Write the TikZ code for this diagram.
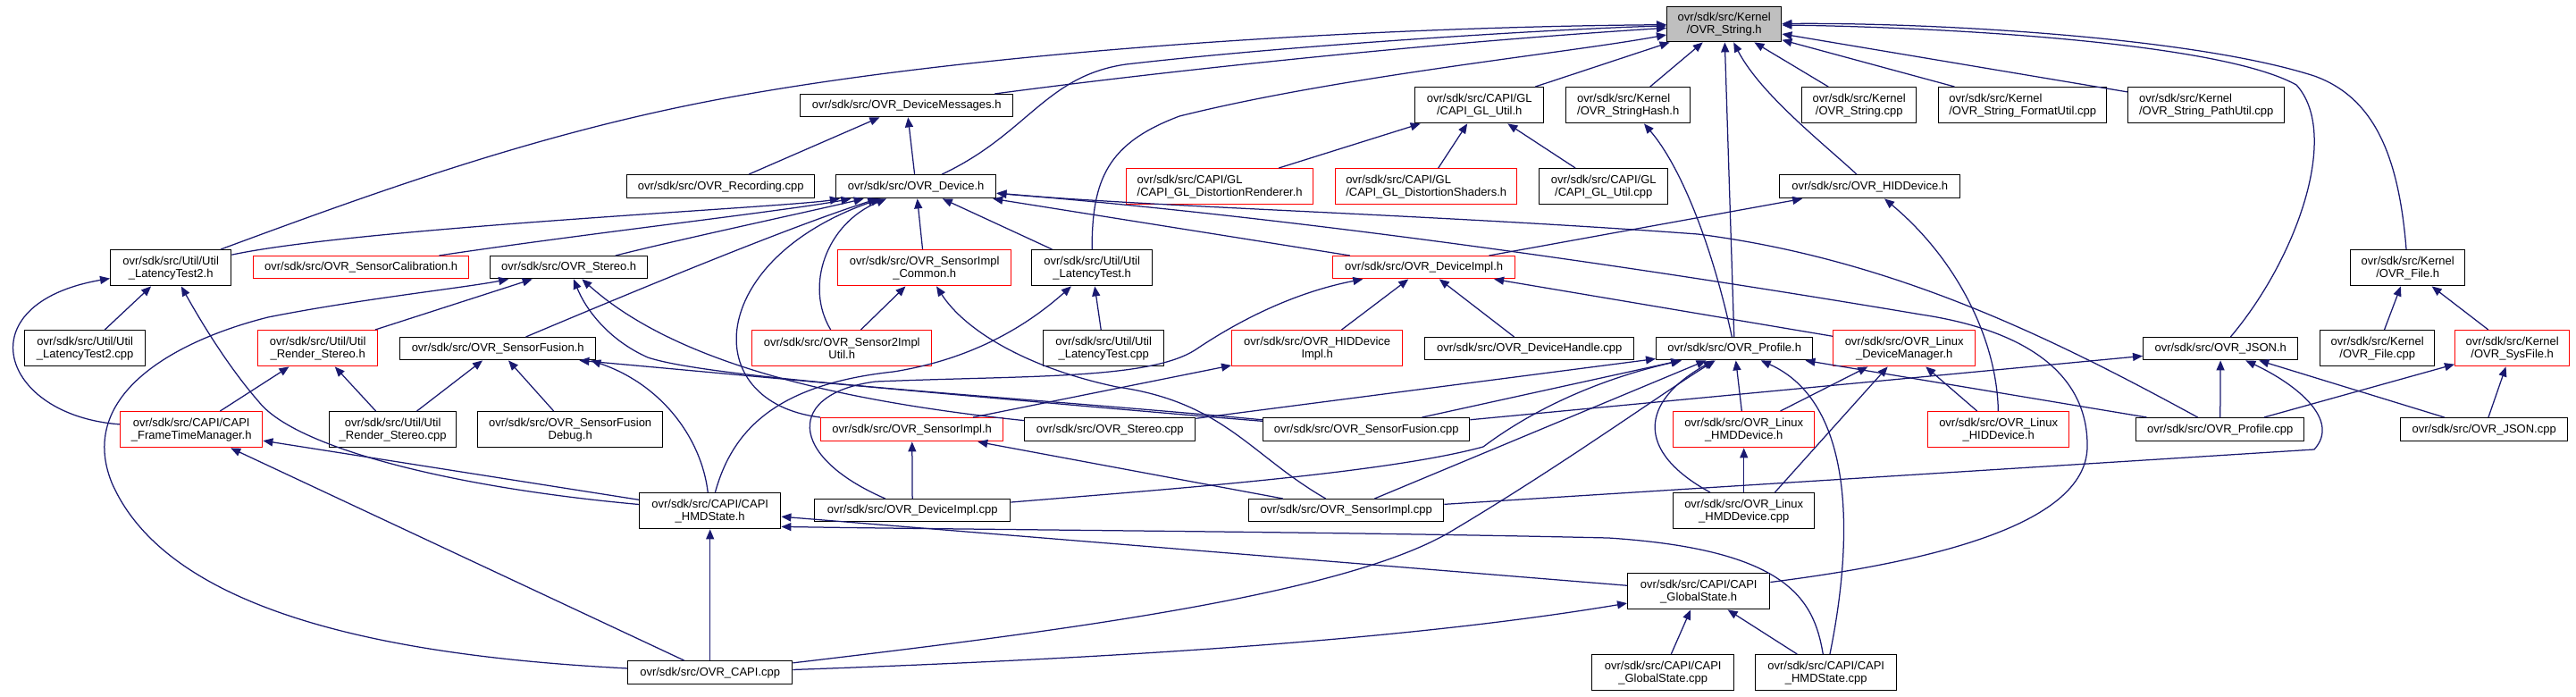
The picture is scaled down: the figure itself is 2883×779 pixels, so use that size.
\documentclass[tikz,border=0pt]{standalone}
\usepackage{fontspec}
\newfontfamily\gfont{Liberation Sans}
\usetikzlibrary{arrows.meta}
\definecolor{edgeblue}{HTML}{191970}
\definecolor{nodered}{HTML}{FF0000}
\definecolor{nodegray}{HTML}{BFBFBF}
\begin{document}
\begin{tikzpicture}[x=1pt,y=-1pt,
  bx/.style={draw=black, line width=1.4pt, inner sep=0pt, anchor=north west, align=center, fill=white, font={\gfont\fontsize{13}{14}\selectfont}},
  rbx/.style={bx, draw=nodered},
  lal/.style={align=left},
  wh/.style 2 args={minimum width=#1pt, minimum height=#2pt},
  lnk/.style={draw=edgeblue, line width=1.25pt, -{Triangle[length=11pt,width=9pt]}}]
\fill[white] (0,0) rectangle (2883,779);
\useasboundingbox (0,0) rectangle (2883,779);
% row A
\node[bx,wh={128}{39},fill=nodegray] (S) at (1865,7) {ovr/sdk/src/Kernel\\/OVR\_String.h};
% row B
\node[bx,wh={238}{25}] (DM) at (895,105) {ovr/sdk/src/OVR\_DeviceMessages.h};
\node[bx,wh={144}{40}] (GLU) at (1583,97) {ovr/sdk/src/CAPI/GL\\/CAPI\_GL\_Util.h};
\node[bx,lal,wh={139}{40}] (SH) at (1752,97) {ovr/sdk/src/Kernel\\/OVR\_StringHash.h};
\node[bx,wh={128}{40}] (SC) at (2016,97) {ovr/sdk/src/Kernel\\/OVR\_String.cpp};
\node[bx,lal,wh={188}{40}] (SF) at (2169,97) {ovr/sdk/src/Kernel\\/OVR\_String\_FormatUtil.cpp};
\node[bx,lal,wh={175}{40}] (SP) at (2381,97) {ovr/sdk/src/Kernel\\/OVR\_String\_PathUtil.cpp};
% row C
\node[bx,wh={210}{26}] (REC) at (701,195) {ovr/sdk/src/OVR\_Recording.cpp};
\node[bx,wh={179}{26}] (DEV) at (935,195) {ovr/sdk/src/OVR\_Device.h};
\node[rbx,lal,wh={209}{40}] (DR) at (1260,188) {ovr/sdk/src/CAPI/GL\\/CAPI\_GL\_DistortionRenderer.h};
\node[rbx,lal,wh={203}{40}] (DSH) at (1494,188) {ovr/sdk/src/CAPI/GL\\/CAPI\_GL\_DistortionShaders.h};
\node[bx,wh={144}{40}] (GLC) at (1722,188) {ovr/sdk/src/CAPI/GL\\/CAPI\_GL\_Util.cpp};
\node[bx,wh={202}{26}] (HID) at (1991,195) {ovr/sdk/src/OVR\_HIDDevice.h};
% row D
\node[bx,wh={135}{40}] (LT2) at (123,279) {ovr/sdk/src/Util/Util\\\_LatencyTest2.h};
\node[rbx,wh={241}{25}] (SCAL) at (283,286) {ovr/sdk/src/OVR\_SensorCalibration.h};
\node[bx,wh={176}{25}] (ST) at (548,286) {ovr/sdk/src/OVR\_Stereo.h};
\node[rbx,wh={194}{40}] (SIC) at (937,279) {ovr/sdk/src/OVR\_SensorImpl\\\_Common.h};
\node[bx,wh={135}{40}] (LT) at (1154,279) {ovr/sdk/src/Util/Util\\\_LatencyTest.h};
\node[rbx,wh={204}{25}] (DI) at (1491,286) {ovr/sdk/src/OVR\_DeviceImpl.h};
\node[bx,wh={128}{40}] (FH) at (2630,279) {ovr/sdk/src/Kernel\\/OVR\_File.h};
% row E
\node[bx,wh={135}{40}] (LT2C) at (27,369) {ovr/sdk/src/Util/Util\\\_LatencyTest2.cpp};
\node[rbx,wh={134}{40}] (RSH) at (288,369) {ovr/sdk/src/Util/Util\\\_Render\_Stereo.h};
\node[bx,wh={219}{25}] (SFH) at (447,377) {ovr/sdk/src/OVR\_SensorFusion.h};
\node[rbx,wh={201}{40}] (S2U) at (841,369) {ovr/sdk/src/OVR\_Sensor2Impl\\Util.h};
\node[bx,wh={135}{40}] (LTC) at (1167,369) {ovr/sdk/src/Util/Util\\\_LatencyTest.cpp};
\node[rbx,wh={191}{40}] (HDI) at (1378,369) {ovr/sdk/src/OVR\_HIDDevice\\Impl.h};
\node[bx,wh={234}{25}] (DH) at (1594,377) {ovr/sdk/src/OVR\_DeviceHandle.cpp};
\node[bx,wh={175}{25}] (PH) at (1853,377) {ovr/sdk/src/OVR\_Profile.h};
\node[rbx,wh={159}{40}] (LDM) at (2051,369) {ovr/sdk/src/OVR\_Linux\\\_DeviceManager.h};
\node[bx,wh={173}{25}] (JH) at (2398,377) {ovr/sdk/src/OVR\_JSON.h};
\node[bx,wh={128}{40}] (FC) at (2596,369) {ovr/sdk/src/Kernel\\/OVR\_File.cpp};
\node[rbx,wh={128}{40}] (SYS) at (2747,369) {ovr/sdk/src/Kernel\\/OVR\_SysFile.h};
% row F
\node[rbx,wh={159}{40}] (FTM) at (134,460) {ovr/sdk/src/CAPI/CAPI\\\_FrameTimeManager.h};
\node[bx,wh={142}{40}] (RSC) at (368,460) {ovr/sdk/src/Util/Util\\\_Render\_Stereo.cpp};
\node[bx,wh={207}{40}] (SFD) at (534,460) {ovr/sdk/src/OVR\_SensorFusion\\Debug.h};
\node[rbx,wh={204}{26}] (SIH) at (918,467) {ovr/sdk/src/OVR\_SensorImpl.h};
\node[bx,wh={191}{26}] (STC) at (1146,467) {ovr/sdk/src/OVR\_Stereo.cpp};
\node[bx,wh={231}{26}] (SFC) at (1413,467) {ovr/sdk/src/OVR\_SensorFusion.cpp};
\node[rbx,wh={158}{40}] (LHH) at (1872,460) {ovr/sdk/src/OVR\_Linux\\\_HMDDevice.h};
\node[rbx,wh={158}{40}] (LHID) at (2157,460) {ovr/sdk/src/OVR\_Linux\\\_HIDDevice.h};
\node[bx,wh={188}{26}] (PC) at (2390,467) {ovr/sdk/src/OVR\_Profile.cpp};
\node[bx,wh={187}{26}] (JC) at (2686,467) {ovr/sdk/src/OVR\_JSON.cpp};
% row G
\node[bx,wh={158}{40}] (HMS) at (715,551) {ovr/sdk/src/CAPI/CAPI\\\_HMDState.h};
\node[bx,wh={219}{25}] (DIC) at (911,558) {ovr/sdk/src/OVR\_DeviceImpl.cpp};
\node[bx,wh={218}{25}] (SIX) at (1397,558) {ovr/sdk/src/OVR\_SensorImpl.cpp};
\node[bx,wh={158}{40}] (LHC) at (1872,551) {ovr/sdk/src/OVR\_Linux\\\_HMDDevice.cpp};
% row H
\node[bx,wh={159}{40}] (GS) at (1821,641) {ovr/sdk/src/CAPI/CAPI\\\_GlobalState.h};
% row I
\node[bx,wh={184}{26}] (CAPI) at (702,739) {ovr/sdk/src/OVR\_CAPI.cpp};
\node[bx,wh={159}{40}] (GSC) at (1781,732) {ovr/sdk/src/CAPI/CAPI\\\_GlobalState.cpp};
\node[bx,wh={158}{40}] (HSC) at (1964,732) {ovr/sdk/src/CAPI/CAPI\\\_HMDState.cpp};

% ---- edges into OVR_String.h
\draw[lnk] (LT2) .. controls (420,215) and (600,150) .. (800,112) .. controls (1100,55) and (1550,30) .. (S);
\draw[lnk] (DM) .. controls (1300,80) and (1600,48) .. (S);
\draw[lnk] (DEV) .. controls (1150,150) and (1170,85) .. (1260,72) .. controls (1450,50) and (1750,32) .. (S);
\draw[lnk] (LT) .. controls (1222,200) and (1240,160) .. (1320,130) .. controls (1500,85) and (1750,60) .. (S);
\draw[lnk] (GLU) -- (S);
\draw[lnk] (SH) -- (S);
\draw[lnk] (PH) -- (S);
\draw[lnk] (HID) .. controls (2040,160) and (1970,105) .. (S);
\draw[lnk] (SC) -- (S);
\draw[lnk] (SF) -- (S);
\draw[lnk] (SP) -- (S);
\draw[lnk] (JH) .. controls (2570,290) and (2620,150) .. (2570,95) .. controls (2480,45) and (2150,30) .. (S);
\draw[lnk] (FH) .. controls (2685,180) and (2660,110) .. (2590,85) .. controls (2450,40) and (2150,25) .. (S);
% ---- DeviceMessages, GL util, StringHash, HIDDevice
\draw[lnk] (REC) -- (DM);
\draw[lnk] (DEV) -- (DM);
\draw[lnk] (DR) -- (GLU);
\draw[lnk] (DSH) -- (GLU);
\draw[lnk] (GLC) -- (GLU);
\draw[lnk] (PH) .. controls (1915,270) and (1880,185) .. (SH);
\draw[lnk] (DI) -- (HID);
\draw[lnk] (LHID) .. controls (2235,380) and (2190,290) .. (HID);
% ---- into OVR_Device.h
\draw[lnk] (LT2) .. controls (400,255) and (880,232) .. (DEV);
\draw[lnk] (SCAL) .. controls (650,262) and (880,236) .. (DEV);
\draw[lnk] (ST) .. controls (760,268) and (900,238) .. (DEV);
\draw[lnk] (SFH) .. controls (700,330) and (880,255) .. (DEV);
\draw[lnk] (SIH.north west) .. controls (780,450) and (790,290) .. (DEV);
\draw[lnk] (S2U) .. controls (900,320) and (925,250) .. (DEV);
\draw[lnk] (SIC) -- (DEV);
\draw[lnk] (LT) -- (DEV);
\draw[lnk] (DI) -- (DEV);
\draw[lnk] (PC) .. controls (2300,380) and (2120,290) .. (1900,262) .. controls (1600,240) and (1300,232) .. (DEV);
\draw[lnk] (GS) .. controls (2150,630) and (2335,590) .. (2336,500) .. controls (2337,420) and (2270,370) .. (2150,352) .. controls (1900,310) and (1500,248) .. (DEV);
% ---- into OVR_DeviceImpl.h
\draw[lnk] (HDI) -- (DI);
\draw[lnk] (DH) -- (DI);
\draw[lnk] (LDM) -- (DI);
\draw[lnk] (DIC) .. controls (880,510) and (880,440) .. (980,427) .. controls (1150,420) and (1290,425) .. (1340,390) .. controls (1400,350) and (1460,325) .. (DI);
% ---- SensorImpl.h, HIDDeviceImpl, SensorImpl_Common
\draw[lnk] (DIC) -- (SIH);
\draw[lnk] (SIX) -- (SIH);
\draw[lnk] (SIH) -- (HDI);
\draw[lnk] (S2U) -- (SIC);
\draw[lnk] (SIX) .. controls (1400,510) and (1370,450) .. (1250,433) .. controls (1150,412) and (1080,370) .. (SIC);
% ---- LatencyTest, LatencyTest2
\draw[lnk] (LTC) -- (LT);
\draw[lnk] (HMS) .. controls (820,480) and (870,430) .. (1000,416) .. controls (1100,400) and (1160,355) .. (LT);
\draw[lnk] (LT2C) -- (LT2);
\draw[lnk] (FTM) .. controls (0,465) and (-40,340) .. (LT2);
\draw[lnk] (HMS) .. controls (500,545) and (330,500) .. (290,450) .. controls (255,410) and (225,360) .. (LT2);
% ---- FrameTimeManager, Render_Stereo
\draw[lnk] (HMS) -- (FTM);
\draw[lnk] (CAPI) -- (FTM);
\draw[lnk] (FTM) -- (RSH);
\draw[lnk] (RSC) -- (RSH);
% ---- Stereo.h
\draw[lnk] (RSH) -- (ST);
\draw[lnk] (CAPI) .. controls (450,735) and (190,690) .. (125,540) .. controls (85,440) and (200,380) .. (300,355) .. controls (400,335) and (520,322) .. (ST);
\draw[lnk] (STC) .. controls (950,450) and (760,410) .. (ST);
\draw[lnk] (SFC) .. controls (1150,445) and (800,425) .. (725,400) .. controls (680,380) and (655,345) .. (ST);
% ---- SensorFusion.h
\draw[lnk] (RSC) -- (SFH);
\draw[lnk] (SFD) -- (SFH);
\draw[lnk] (HMS) .. controls (785,490) and (740,430) .. ([xshift=-6pt]SFH.south east);
\draw[lnk] (SFC) .. controls (1150,450) and (780,415) .. ([xshift=-19pt]SFH.south east);
% ---- Profile.h
\draw[lnk] (STC) -- (PH);
\draw[lnk] (SFC) -- (PH);
\draw[lnk] (DIC) .. controls (1300,548) and (1550,530) .. (1660,500) .. controls (1740,440) and (1830,415) .. (PH);
\draw[lnk] (SIX) -- (PH);
\draw[lnk] (CAPI) .. controls (1200,705) and (1500,665) .. (1620,597) .. controls (1750,520) and (1860,440) .. (PH);
\draw[lnk] (LHH) -- (PH);
\draw[lnk] (LHC) .. controls (1830,505) and (1835,450) .. (PH);
\draw[lnk] (HSC) .. controls (2075,600) and (2075,450) .. (PH);
\draw[lnk] (PC) -- (PH);
% ---- Linux device manager / HMD device
\draw[lnk] (LHH) -- (LDM);
\draw[lnk] ([xshift=-45pt]LHC.north east) -- (LDM);
\draw[lnk] (LHID) -- (LDM);
\draw[lnk] (LHC) -- (LHH);
% ---- JSON.h, SysFile.h, File.h
\draw[lnk] (SFC) -- (JH);
\draw[lnk] (PC) -- (JH);
\draw[lnk] (SIX) -- (2590,503) .. controls (2620,470) and (2570,430) .. (JH);
\draw[lnk] (JC) -- (JH);
\draw[lnk] (PC) -- (SYS);
\draw[lnk] (JC) -- (SYS);
\draw[lnk] (FC) -- (FH);
\draw[lnk] (SYS) -- (FH);
% ---- HMDState.h, GlobalState.h
\draw[lnk] (CAPI) -- (HMS);
\draw[lnk] (GS) -- (HMS);
\draw[lnk] (HSC) .. controls (2030,670) and (2000,615) .. (1800,602) .. controls (1500,595) and (1100,593) .. ([yshift=3pt]HMS.south east);
\draw[lnk] (CAPI) .. controls (1300,735) and (1600,712) .. (GS);
\draw[lnk] (GSC) -- (GS);
\draw[lnk] (HSC) -- (GS);
\end{tikzpicture}
\end{document}
